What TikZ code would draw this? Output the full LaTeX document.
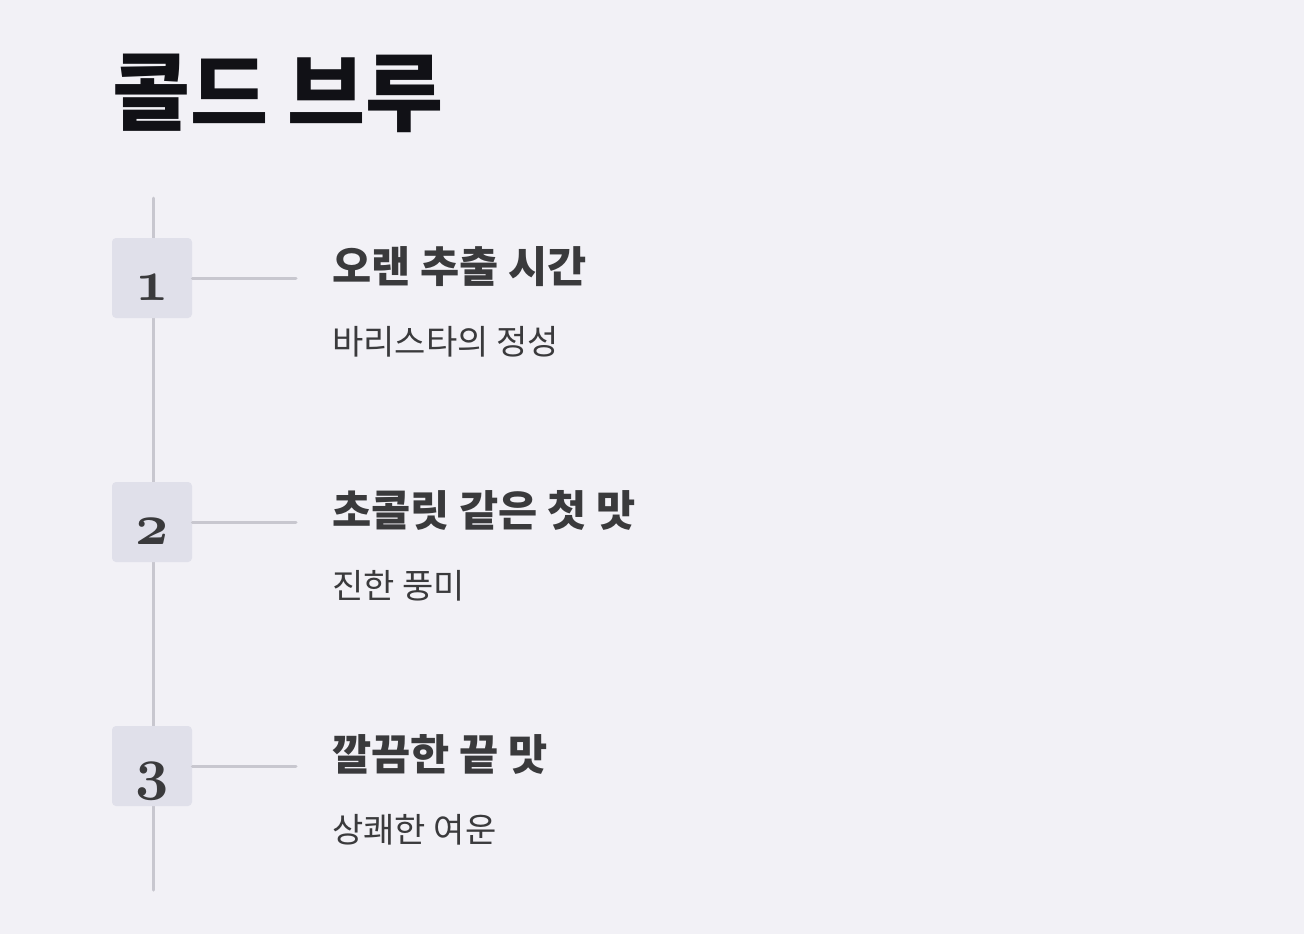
\documentclass[tikz,border=0pt]{standalone}
\usepackage{fontspec}
\newfontfamily\krfont{Noto Sans CJK KR}
\DeclareFontFamily{OML}{oldnum}{\skewchar\font'177}
\DeclareFontShape{OML}{oldnum}{b}{it}{<-> cmmib10}{}
\definecolor{pagebg}{HTML}{F2F1F6}
\definecolor{boxfill}{HTML}{E0E0EA}
\definecolor{rulegray}{HTML}{C8C7CF}
\definecolor{inkdark}{HTML}{3A3A3C}
\definecolor{inktitle}{HTML}{111116}
\tikzset{
  numbox/.style={minimum width=40pt,minimum height=40pt,inner sep=0pt,rounded corners=2pt,fill=boxfill},
  numtext/.style={font=\fontsize{29}{29}\usefont{OML}{oldnum}{b}{it},text=inkdark},
  headtext/.style={anchor=base west,inner sep=0pt,font=\krfont\bfseries\fontsize{21.3}{24}\selectfont,text=inkdark},
  subtext/.style={anchor=base west,inner sep=0pt,font=\krfont\fontsize{17}{20}\selectfont,text=inkdark},
  rule/.style={draw=rulegray,line width=1.5pt,line cap=round}
}
\begin{document}
\begin{tikzpicture}[x=0.5pt,y=-0.5pt]
  \fill [pagebg] (0,0) rectangle (1304,934);

  \node (title) [anchor=base west,inner sep=0pt,font=\krfont\bfseries\fontsize{42.4}{46}\selectfont,text=inktitle] at (112,124) {콜드 브루};

  % spine of the timeline
  \node (top) [coordinate] at (153,198) {};
  \node (bottom) [coordinate] at (153,890) {};
  \draw [rule] (top) -- (bottom);

  \node (box1) [numbox] at (152,278) {};
  \node (box2) [numbox] at (152,522) {};
  \node (box3) [numbox] at (152,766) {};

  \node (tick1) [coordinate] at (296,278) {};
  \node (tick2) [coordinate] at (296,522) {};
  \node (tick3) [coordinate] at (296,766) {};
  \path [rule]
      (box1.east) edge (tick1)
      (box2.east) edge (tick2)
      (box3.east) edge (tick3)
  ;

  \node (num1) [numtext,anchor=base,inner sep=0pt] at (152,300) {1};
  \node (num2) [numtext,anchor=base,inner sep=0pt] at (152,544) {2};
  \node (num3) [numtext,anchor=base,inner sep=0pt] at (152,788) {3};

  \node (head1) [headtext] at (332,282) {오랜 추출 시간};
  \node (sub1) [subtext] at (332,354) {바리스타의 정성};

  \node (head2) [headtext] at (332,526) {초콜릿 같은 첫 맛};
  \node (sub2) [subtext] at (332,598) {진한 풍미};

  \node (head3) [headtext] at (332,770) {깔끔한 끝 맛};
  \node (sub3) [subtext] at (332,842) {상쾌한 여운};
\end{tikzpicture}
\end{document}
